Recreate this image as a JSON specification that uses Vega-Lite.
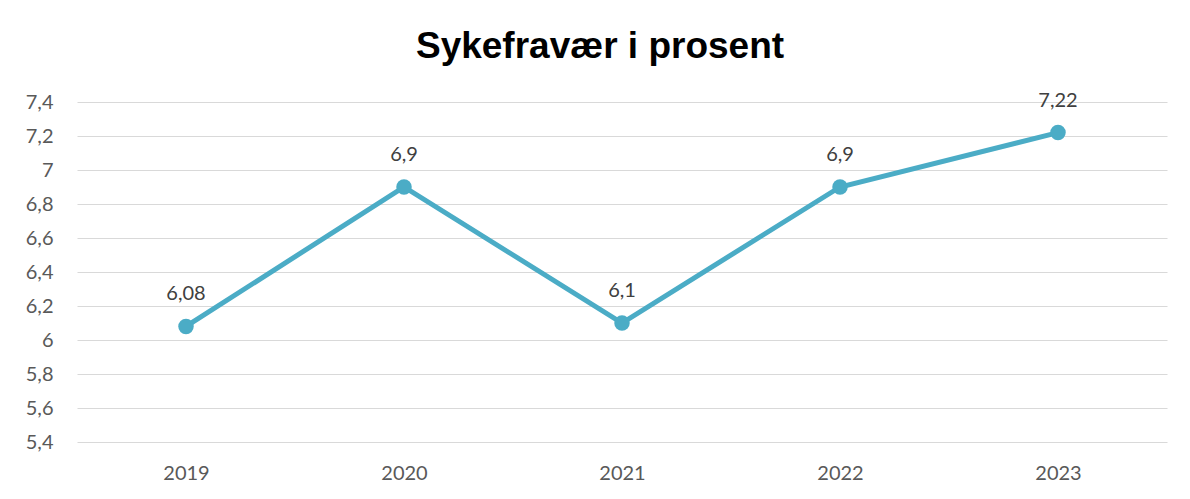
{
  "$schema": "https://vega.github.io/schema/vega-lite/v6.json",
  "autosize": "none",
  "width": 1090,
  "height": 340,
  "padding": {"left": 77, "top": 102, "right": 23, "bottom": 57},
  "background": "white",
  "title": {
    "text": "Sykefravær i prosent",
    "font": "Liberation Sans",
    "fontSize": 37,
    "fontWeight": "bold",
    "color": "#000000",
    "anchor": "middle",
    "frame": "group",
    "baseline": "alphabetic",
    "offset": -4,
    "dx": -22
  },
  "data": {
    "values": [
      {"year": "2019", "value": 6.08, "label": "6,08"},
      {"year": "2020", "value": 6.9, "label": "6,9"},
      {"year": "2021", "value": 6.1, "label": "6,1"},
      {"year": "2022", "value": 6.9, "label": "6,9"},
      {"year": "2023", "value": 7.22, "label": "7,22"}
    ]
  },
  "encoding": {
    "x": {
      "field": "year",
      "type": "ordinal",
      "scale": {"type": "point", "padding": 0.5},
      "axis": {
        "title": null,
        "labelAngle": 0,
        "domain": false,
        "ticks": false,
        "grid": false,
        "labelFont": "Lato",
        "labelFontSize": 20,
        "labelColor": "#595959",
        "labelPadding": 21
      }
    },
    "y": {
      "field": "value",
      "type": "quantitative",
      "scale": {"domain": [5.4, 7.4], "nice": false, "zero": false},
      "axis": {
        "title": null,
        "values": [5.4, 5.6, 5.8, 6, 6.2, 6.4, 6.6, 6.8, 7, 7.2, 7.4],
        "labelExpr": "replace(format(datum.value, '~g'), '.', ',')",
        "domain": false,
        "ticks": false,
        "grid": true,
        "gridColor": "#D9D9D9",
        "gridWidth": 1,
        "labelFont": "Lato",
        "labelFontSize": 20,
        "labelColor": "#595959",
        "labelPadding": 24
      }
    }
  },
  "layer": [
    {"mark": {"type": "line", "color": "#4BACC6", "strokeWidth": 5}},
    {"mark": {"type": "point", "filled": true, "opacity": 1, "color": "#4BACC6", "size": 240}},
    {
      "mark": {"type": "text", "dy": -32, "baseline": "middle", "font": "Lato", "fontSize": 20, "color": "#404040"},
      "encoding": {"text": {"field": "label"}}
    }
  ],
  "config": {"view": {"stroke": null}}
}
